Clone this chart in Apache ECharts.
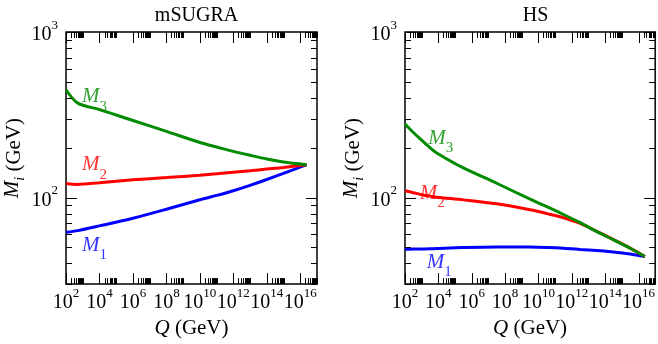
<!DOCTYPE html>
<html>
<head>
<meta charset="utf-8">
<script src="https://cdn.jsdelivr.net/npm/echarts@6/dist/echarts.min.js"></script>
<style>html,body{margin:0;padding:0;background:#fff}#c{width:658px;height:344px}</style>
</head>
<body>
<div id="c"></div>
<script>
// ---- data (x values are log10 of Q/GeV, y values in GeV) ----
const titles = ['mSUGRA', 'HS'];
const xTickExps = [2, 4, 6, 8, 10, 12, 14, 16];
const yTickVals = [100, 1000];

const sugraQ  = [2, 2.7, 4, 6, 8, 10, 11, 12, 13, 14, 15, 16.38];
const sugraM3 = [448, 372, 340, 292, 251, 215, 202, 190, 180, 171, 164, 158];
const sugraM2 = [121.5, 120, 123, 128, 132, 136.5, 139, 142, 145, 148.5, 152, 158];
const sugraM1 = [61.7, 63.1, 67.4, 75, 85, 97, 103, 110, 118.5, 128.5, 140, 158];

const hsQ  = [2, 2.5, 3, 3.5, 3.9, 5.5, 7.5, 9.5, 10.5, 11.5, 12.5, 13.5, 14.5, 15.5, 16.38];
const hsM3 = [278, 247, 222, 200, 186, 151, 122, 97.7, 88, 79, 70.5, 62.2, 55.5, 49.4, 44];
const hsM2 = [110, 107, 104, 102, 100.5, 96.8, 91.6, 84.3, 80, 75.5, 69.8, 62.5, 55.7, 49.5, 44];
const hsM1 = [48.7, 48.8, 48.9, 49, 49.2, 49.9, 50.3, 50.2, 49.9, 49.4, 48.6, 47.8, 46.9, 45.6, 44];

const seriesSubs = ['3', '2', '1'];
</script>
<script>
const chart = echarts.init(document.getElementById('c'), null, {renderer: 'canvas'});
const FONT = 'Liberation Serif';
const colors = ['#008b00', '#ff0000', '#0000ff'];
const X_MIN = 2, X_MAX = 17, Y_MIN = 30, Y_MAX = 1000;

const grids = [
  {left: 66, top: 32, width: 251, height: 253},
  {left: 405, top: 32, width: 251, height: 253}
];

// label anchors (annotation placement, data coordinates)
const labelAnchors = [
  [[2.95, 387], [2.95, 150], [2.95, 49]],
  [[3.4, 218], [2.88, 101], [3.3, 38.8]]
];

// tick specs: [x, y, kind]  kind 0: x major, 1: x minor, 2: y major, 3: y minor
function buildTicks() {
  const t = [];
  xTickExps.forEach(e => t.push([e, 100, 0]));
  xTickExps.forEach(e => { for (let k = 2; k <= 10; k++) t.push([e + Math.log10(k), 100, 1]); });
  yTickVals.forEach(v => t.push([X_MIN, v, 2]));
  [10, 100].forEach(d => { for (let k = 2; k <= 9; k++) { const v = k * d; if (v >= Y_MIN && v <= Y_MAX && v !== 100) t.push([X_MIN, v, 3]); } });
  return t;
}
const ticks = buildTicks();

function renderTick(params, api) {
  const cs = params.coordSys;
  const kind = api.value(2);
  const len = (kind === 0 || kind === 2) ? 11 : 6;
  const st = {stroke: '#000', lineWidth: 1};
  if (kind < 2) {
    let px = Math.round(api.coord([api.value(0), 100])[0]) + 0.5;
    if (px < cs.x || px > cs.x + cs.width + 1) return null;
    const yb = cs.y + cs.height, yt = cs.y;
    return {type: 'group', children: [
      {type: 'line', shape: {x1: px, y1: yb, x2: px, y2: yb - len}, style: st},
      {type: 'line', shape: {x1: px, y1: yt, x2: px, y2: yt + len}, style: st}
    ]};
  } else {
    let py = Math.round(api.coord([X_MIN, api.value(1)])[1]) + 0.5;
    const xl = cs.x, xr = cs.x + cs.width;
    return {type: 'group', children: [
      {type: 'line', shape: {x1: xl, y1: py, x2: xl + len, y2: py}, style: st},
      {type: 'line', shape: {x1: xr, y1: py, x2: xr - len, y2: py}, style: st}
    ]};
  }
}

const tickRich = {
  b: {fontFamily: FONT, fontSize: 20, color: '#000', verticalAlign: 'bottom', lineHeight: 26},
  s: {fontFamily: FONT, fontSize: 13, color: '#000', verticalAlign: 'top', lineHeight: 26}
};

const xAxes = [], yAxes = [], series = [], titleArr = [];
const panels = [
  {q: sugraQ, m: [sugraM3, sugraM2, sugraM1]},
  {q: hsQ, m: [hsM3, hsM2, hsM1]}
];

panels.forEach((p, gi) => {
  const g = grids[gi];
  titleArr.push({
    text: titles[gi], left: g.left + g.width / 2, top: 1, textAlign: 'center',
    textStyle: {fontFamily: FONT, fontSize: 20, fontWeight: 'normal', color: '#000'}
  });
  xAxes.push({
    type: 'value', gridIndex: gi, min: X_MIN, max: X_MAX, interval: 1,
    axisLine: {show: false}, axisTick: {show: false}, splitLine: {show: false},
    axisLabel: {
      margin: 3, showMaxLabel: false,
      formatter: v => xTickExps.indexOf(v) >= 0 ? '{b|10}{s|' + v + '}' : '',
      rich: tickRich
    },
    name: '{i|Q} (GeV)', nameLocation: 'middle', nameGap: 22,
    nameTextStyle: {
      fontFamily: FONT, fontSize: 21, color: '#000',
      rich: {i: {fontFamily: FONT, fontSize: 21, fontStyle: 'italic', color: '#000'}}
    }
  });
  yAxes.push({
    type: 'log', logBase: 10, gridIndex: gi, min: Y_MIN, max: Y_MAX,
    axisLine: {show: false}, axisTick: {show: false}, splitLine: {show: false}, minorTick: {show: false},
    axisLabel: {
      margin: 8,
      formatter: v => {
        const e = Math.round(Math.log10(v));
        return yTickVals.some(t => Math.abs(t - v) < 1e-6) ? '{b|10}{s|' + e + '}' : '';
      },
      rich: tickRich
    },
    name: '{i|M}{sub|i} (GeV)', nameLocation: 'middle', nameGap: 38, nameRotate: 90,
    nameTextStyle: {
      fontFamily: FONT, fontSize: 21, color: '#000',
      rich: {
        i: {fontFamily: FONT, fontSize: 21, fontStyle: 'italic', color: '#000', verticalAlign: 'top', lineHeight: 26},
        sub: {fontFamily: FONT, fontSize: 14, fontStyle: 'italic', color: '#000', verticalAlign: 'bottom', lineHeight: 26}
      }
    }
  });
  p.m.forEach((vals, si) => {
    series.push({
      type: 'line', xAxisIndex: gi, yAxisIndex: gi,
      data: p.q.map((x, i) => [x, vals[i]]),
      showSymbol: false, symbol: 'none', smooth: 0.3, z: 3 - si + 2,
      lineStyle: {color: colors[si], width: 3}, itemStyle: {color: colors[si]}
    });
  });
  series.push({
    type: 'scatter', xAxisIndex: gi, yAxisIndex: gi, symbolSize: 0, silent: true, z: 10,
    data: labelAnchors[gi].map((a, si) => ({
      value: a,
      label: {
        show: true, position: 'right', distance: 0,
        formatter: '{m|M}{s|' + seriesSubs[si] + '}',
        rich: {
          m: {fontFamily: FONT, fontSize: 21, fontStyle: 'italic', color: colors[si], verticalAlign: 'top', lineHeight: 28},
          s: {fontFamily: FONT, fontSize: 15, color: colors[si], verticalAlign: 'bottom', lineHeight: 28}
        }
      }
    }))
  });
  series.push({
    type: 'custom', xAxisIndex: gi, yAxisIndex: gi, silent: true, z: 20,
    renderItem: renderTick, encode: {x: 0, y: 1}, clip: false,
    data: ticks
  });
});

chart.setOption({
  animation: false,
  backgroundColor: '#fff',
  title: titleArr,
  grid: grids.map(g => Object.assign({show: true, borderColor: '#000', borderWidth: 1.5, backgroundColor: 'transparent'}, g)),
  xAxis: xAxes,
  yAxis: yAxes,
  series: series
});
</script>
</body>
</html>
